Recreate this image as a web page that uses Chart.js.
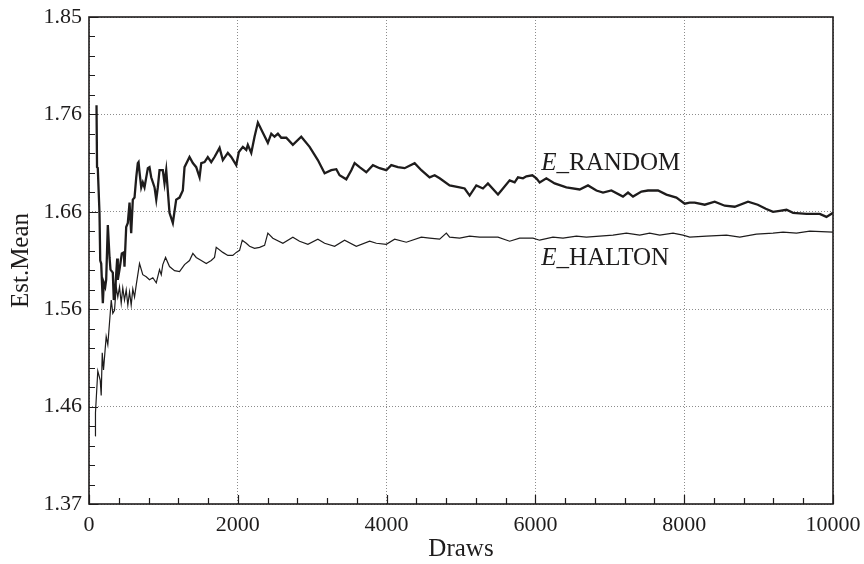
<!DOCTYPE html>
<html><head><meta charset="utf-8">
<script src="https://cdn.jsdelivr.net/npm/chart.js@4.4.1/dist/chart.umd.min.js"></script>
<style>html,body{margin:0;padding:0;background:#fff}#wrap{width:864px;height:564px;position:relative}</style>
</head><body><div id="wrap"><canvas id="c"></canvas></div>
<script>
// ---- data ----
const randomDraws = [101,108,118,141,151,164,186,199,218,231,253,276,289,320,333,352,379,387,410,441,468,477,500,522,545,567,589,612,635,656,666,679,702,723,746,791,813,836,881,904,925,948,992,1015,1038,1082,1127,1172,1217,1261,1284,1351,1396,1441,1486,1509,1553,1597,1643,1687,1755,1799,1866,1912,1979,2014,2068,2114,2135,2181,2225,2270,2337,2404,2450,2494,2539,2584,2652,2740,2853,2965,3076,3167,3257,3324,3368,3458,3526,3570,3637,3727,3816,3906,3996,4063,4152,4242,4377,4467,4578,4646,4713,4847,4982,5049,5116,5206,5295,5362,5497,5542,5654,5721,5766,5833,5879,5959,6013,6057,6147,6259,6416,6595,6707,6820,6909,7021,7177,7245,7312,7425,7514,7604,7648,7761,7895,8007,8074,8141,8276,8410,8545,8679,8858,8989,9096,9194,9284,9375,9464,9644,9822,9912,10000];
const randomMean = [1.763,1.702,1.701,1.657,1.610,1.607,1.568,1.588,1.584,1.591,1.645,1.613,1.601,1.598,1.571,1.581,1.612,1.591,1.601,1.617,1.618,1.604,1.643,1.647,1.667,1.637,1.670,1.672,1.692,1.706,1.707,1.697,1.682,1.687,1.682,1.701,1.702,1.692,1.682,1.670,1.682,1.699,1.699,1.686,1.699,1.657,1.647,1.670,1.672,1.679,1.702,1.712,1.706,1.702,1.692,1.706,1.707,1.712,1.707,1.712,1.721,1.709,1.716,1.712,1.704,1.717,1.722,1.719,1.724,1.716,1.732,1.746,1.736,1.726,1.735,1.732,1.735,1.731,1.731,1.724,1.732,1.722,1.709,1.696,1.699,1.700,1.694,1.690,1.699,1.706,1.702,1.697,1.704,1.701,1.699,1.704,1.702,1.701,1.706,1.699,1.692,1.694,1.691,1.684,1.682,1.681,1.674,1.684,1.681,1.686,1.675,1.679,1.689,1.687,1.692,1.691,1.693,1.694,1.691,1.687,1.691,1.686,1.682,1.680,1.684,1.679,1.677,1.679,1.673,1.677,1.673,1.678,1.679,1.679,1.679,1.675,1.672,1.666,1.667,1.667,1.665,1.668,1.664,1.663,1.668,1.665,1.661,1.658,1.659,1.660,1.657,1.656,1.656,1.653,1.657];
const haltonDraws = [83,87,118,151,164,178,195,231,253,299,320,343,366,387,410,433,454,477,500,522,545,567,589,612,635,679,723,769,813,858,904,948,971,992,1029,1082,1150,1217,1284,1351,1396,1441,1509,1576,1643,1687,1710,1799,1866,1933,1979,2024,2060,2114,2158,2225,2293,2360,2404,2471,2606,2740,2830,2942,3076,3167,3301,3435,3593,3772,3862,3996,4108,4265,4467,4578,4713,4803,4847,4982,5116,5250,5341,5497,5654,5788,5967,6057,6236,6371,6551,6685,6864,7043,7223,7402,7536,7671,7850,7984,8074,8299,8568,8747,8971,9194,9329,9509,9688,10000];
const haltonMean = [1.437,1.460,1.501,1.492,1.477,1.519,1.502,1.535,1.527,1.571,1.558,1.561,1.584,1.574,1.584,1.568,1.583,1.571,1.581,1.566,1.579,1.566,1.582,1.574,1.586,1.607,1.596,1.594,1.591,1.593,1.588,1.601,1.596,1.606,1.613,1.604,1.600,1.599,1.606,1.610,1.617,1.613,1.610,1.607,1.610,1.613,1.623,1.618,1.615,1.615,1.618,1.620,1.630,1.627,1.624,1.622,1.623,1.625,1.637,1.632,1.627,1.633,1.629,1.626,1.631,1.627,1.624,1.630,1.624,1.629,1.627,1.626,1.631,1.628,1.633,1.632,1.631,1.637,1.633,1.632,1.634,1.633,1.633,1.633,1.629,1.632,1.632,1.630,1.633,1.632,1.634,1.633,1.634,1.635,1.637,1.635,1.637,1.635,1.637,1.635,1.633,1.634,1.635,1.633,1.636,1.637,1.638,1.637,1.639,1.638];
const seriesNames = ['RANDOM', 'HALTON'];
const xTickValues = [0, 2000, 4000, 6000, 8000, 10000];
const xTickLabels = ['0', '2000', '4000', '6000', '8000', '10000'];
const yTickValues = [1.37, 1.466, 1.562, 1.658, 1.754, 1.85];
const yTickLabels = ['1.37', '1.46', '1.56', '1.66', '1.76', '1.85'];
const xTitle = 'Draws';
const yTitle = 'Est.Mean';

// ---- styling ----
const INK = '#1e1c1c';
const FONT = '"Liberation Serif", "Times New Roman", serif';
const labelAnchors = [{x: 6080, y: 1.699}, {x: 6080, y: 1.6055}];

function withMinor(majors) {
  const out = [];
  for (let i = 0; i < majors.length; i++) {
    out.push({value: majors[i], major: true});
    if (i < majors.length - 1) {
      const step = (majors[i + 1] - majors[i]) / 5;
      for (let k = 1; k < 5; k++) out.push({value: majors[i] + k * step, major: false});
    }
  }
  return out;
}
function labelFor(v, vals, labels) {
  for (let i = 0; i < vals.length; i++) if (Math.abs(v - vals[i]) < 1e-6 * Math.max(1, Math.abs(vals[i]))) return labels[i];
  return '';
}
function isMajor(v, vals) { return labelFor(v, vals, vals.map(() => 'x')) !== ''; }

const frame = {
  id: 'frame',
  afterDatasetsDraw(chart) {
    const {ctx, chartArea: a, scales} = chart;
    ctx.save();
    ctx.strokeStyle = INK;
    ctx.lineWidth = 1.2;
    ctx.beginPath();
    scales.x.ticks.forEach(t => {
      const px = Math.round(scales.x.getPixelForValue(t.value)) + 0.5;
      const len = isMajor(t.value, xTickValues) ? 9 : 6;
      ctx.moveTo(px, a.bottom); ctx.lineTo(px, a.bottom - len);
    });
    scales.y.ticks.forEach(t => {
      const py = Math.round(scales.y.getPixelForValue(t.value)) + 0.5;
      const len = isMajor(t.value, yTickValues) ? 9 : 6;
      ctx.moveTo(a.left, py); ctx.lineTo(a.left + len, py);
    });
    ctx.stroke();
    ctx.lineWidth = 1.6;
    ctx.strokeRect(a.left, a.top, a.right - a.left, a.bottom - a.top);
    ctx.restore();
  },
  afterDraw(chart) {
    const {ctx, scales} = chart;
    ctx.save();
    ctx.fillStyle = INK;
    ctx.textBaseline = 'alphabetic';
    seriesNames.forEach((name, i) => {
      const px = scales.x.getPixelForValue(labelAnchors[i].x);
      const py = scales.y.getPixelForValue(labelAnchors[i].y);
      ctx.font = 'italic 25px ' + FONT;
      ctx.fillText('E', px, py);
      const w = ctx.measureText('E').width;
      ctx.font = '25px ' + FONT;
      ctx.fillText('_' + name, px + w, py);
    });
    ctx.restore();
  }
};

new Chart(document.getElementById('c'), {
  type: 'line',
  data: {
    datasets: [
      {label: seriesNames[0], data: randomDraws.map((x, i) => ({x, y: randomMean[i]})), borderColor: INK, borderWidth: 2.3, pointRadius: 0, tension: 0, fill: false},
      {label: seriesNames[1], data: haltonDraws.map((x, i) => ({x, y: haltonMean[i]})), borderColor: INK, borderWidth: 1.2, pointRadius: 0, tension: 0, fill: false}
    ]
  },
  options: {
    responsive: true, maintainAspectRatio: false, animation: false, devicePixelRatio: 1,
    layout: {padding: {top: 17, right: 31, left: 0, bottom: 0}},
    plugins: {legend: {display: false}, tooltip: {enabled: false}},
    scales: {
      x: {
        type: 'linear', min: xTickValues[0], max: xTickValues[xTickValues.length - 1],
        afterBuildTicks: s => { s.ticks = withMinor(xTickValues); },
        afterFit: s => { s.height = 60; s.paddingLeft = 0; s.paddingRight = 0; },
        ticks: {autoSkip: false, maxRotation: 0, padding: 8, color: INK, font: {family: FONT, size: 22},
          callback: v => labelFor(v, xTickValues, xTickLabels)},
        grid: {drawTicks: false, lineWidth: 1,
          color: c => (c.tick && isMajor(c.tick.value, xTickValues)) ? '#8c8c8c' : 'rgba(0,0,0,0)'},
        border: {display: false, dash: [1, 2]},
        title: {display: true, text: xTitle, color: INK, font: {family: FONT, size: 25}, padding: {top: 0, bottom: 0}}
      },
      y: {
        type: 'linear', min: yTickValues[0], max: yTickValues[yTickValues.length - 1],
        afterBuildTicks: s => { s.ticks = withMinor(yTickValues); },
        afterFit: s => { s.width = 89; s.paddingTop = 0; s.paddingBottom = 0; },
        ticks: {autoSkip: false, padding: 7, color: INK, font: {family: FONT, size: 22},
          callback: v => labelFor(v, yTickValues, yTickLabels)},
        grid: {drawTicks: false, lineWidth: 1,
          color: c => (c.tick && isMajor(c.tick.value, yTickValues)) ? '#8c8c8c' : 'rgba(0,0,0,0)'},
        border: {display: false, dash: [1, 2]},
        title: {display: true, text: yTitle, color: INK, font: {family: FONT, size: 25}, padding: {top: 6, bottom: 0}}
      }
    }
  },
  plugins: [frame]
});
</script></body></html>
